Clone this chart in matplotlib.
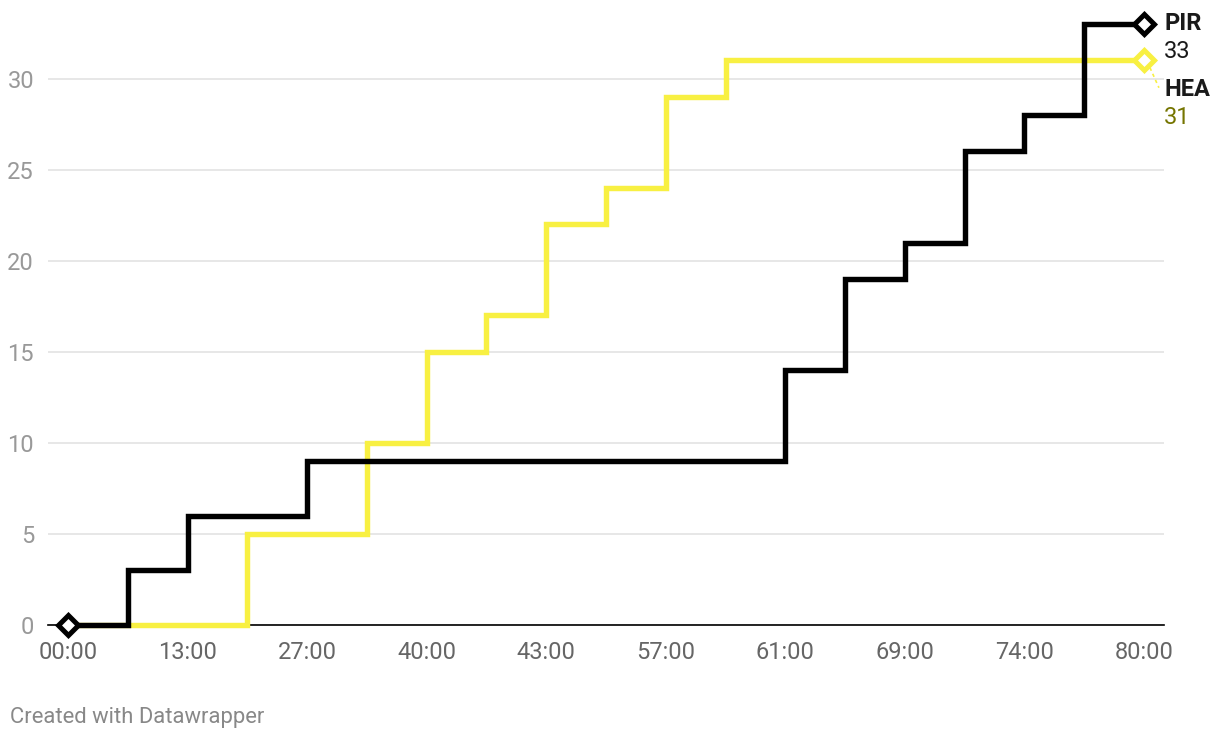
import matplotlib.pyplot as plt
import numpy as np

plt.rcParams['font.family'] = ['Roboto', 'DejaVu Sans']

# Data
times = ['00:00', '07:00', '13:00', '20:00', '27:00', '34:00', '40:00', '42:00',
         '43:00', '50:00', '57:00', '59:00', '61:00', '65:00', '69:00', '72:00',
         '74:00', '78:00', '80:00']
pir = [0, 3, 6, 6, 9, 9, 9, 9, 9, 9, 9, 9, 14, 19, 21, 26, 28, 33, 33]
hea = [0, 0, 0, 5, 5, 10, 15, 17, 22, 24, 29, 31, 31, 31, 31, 31, 31, 31, 31]
yticks = [0, 5, 10, 15, 20, 25, 30]

black = '#000000'
yellow = '#f8f042'

fig = plt.figure(figsize=(12.2, 7.42), dpi=100)
ax = fig.add_axes([48 / 1220, 1 - 625 / 742, 1116 / 1220, 601 / 742])

x = np.arange(len(times))
ax.step(x, hea, where='post', color=yellow, lw=3.9, zorder=3, clip_on=False,
        solid_joinstyle='miter')
ax.step(x, pir, where='post', color=black, lw=3.9, zorder=4, clip_on=False,
        solid_joinstyle='miter')

# end markers
ax.plot(x[-1], hea[-1], marker='D', ms=10, mfc='white', mec=yellow, mew=3.6,
        zorder=5, clip_on=False)
ax.plot(x[-1], pir[-1], marker='D', ms=10, mfc='white', mec=black, mew=3.6,
        zorder=6, clip_on=False)
ax.plot(x[0], pir[0], marker='D', ms=10, mfc='white', mec=black, mew=3.6,
        zorder=6, clip_on=False)

# leader for HEA label
ax.plot([x[-1] + 0.1, x[-1] + 0.25], [hea[-1] - 0.4, hea[-1] - 1.5],
        color=yellow, lw=1.2, ls=(0, (2, 2)), clip_on=False)

# labels at right
ax.annotate('PIR', (x[-1], pir[-1]), xytext=(20, 0), textcoords='offset pixels',
            fontsize=17, fontweight='bold', color='#1a1a1a', va='center')
ax.annotate('33', (x[-1], pir[-1]), xytext=(20, -28), textcoords='offset pixels',
            fontsize=17, color='#1a1a1a', va='center')
ax.annotate('HEA', (x[-1], hea[-1]), xytext=(20, -29), textcoords='offset pixels',
            fontsize=17, fontweight='bold', color='#1a1a1a', va='center')
ax.annotate('31', (x[-1], hea[-1]), xytext=(20, -57), textcoords='offset pixels',
            fontsize=17, color='#757500', va='center')

ax.set_xlim(-20 / 59.78, 18 + 20 / 59.78)
ax.set_ylim(0, 33)
ax.set_xticks(x[::2])
ax.set_xticklabels(times[::2])
ax.set_yticks(yticks)
ax.tick_params(axis='x', length=0, pad=11.5, labelsize=17, labelcolor='#666666')
ax.tick_params(axis='y', length=0, pad=10, labelsize=17, labelcolor='#999999')
for t in ax.get_yticklabels():
    t.set_horizontalalignment('right')

ax.grid(axis='y', color='#e3e3e3', lw=1.2)
ax.set_axisbelow(True)
for s in ['top', 'right', 'left']:
    ax.spines[s].set_visible(False)
ax.spines['bottom'].set_color('#000000')
ax.spines['bottom'].set_linewidth(1.2)

fig.text(10 / 1220, 1 - 717 / 742, 'Created with Datawrapper', fontsize=15.8,
         color='#888888', va='center')

plt.savefig('out.png', dpi=100)
